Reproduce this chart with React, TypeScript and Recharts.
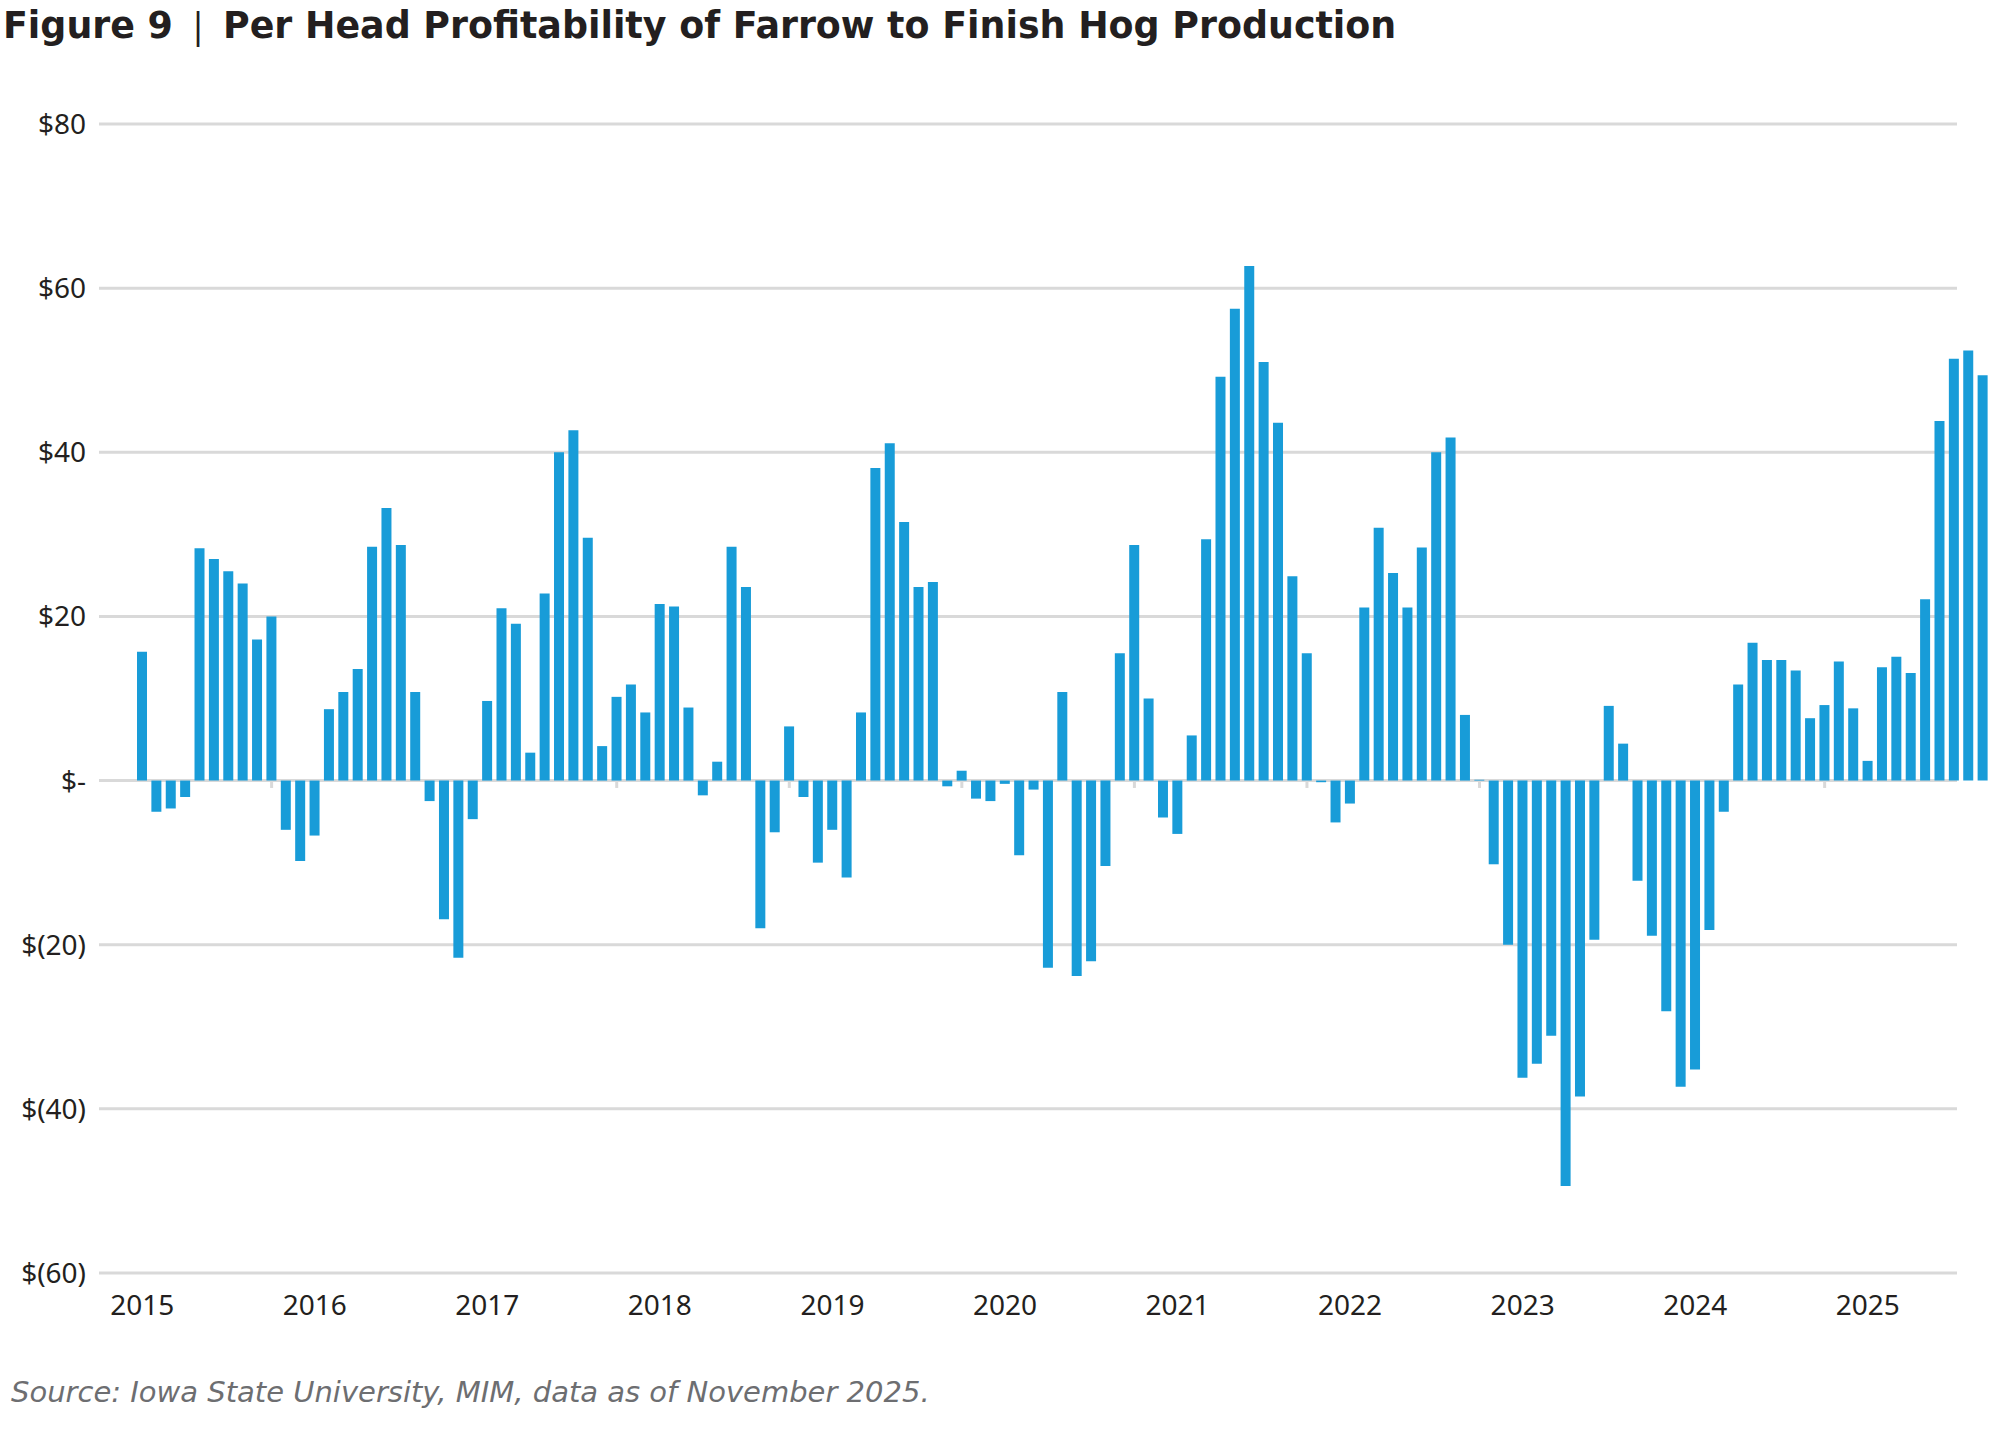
import { Bar, BarChart, CartesianGrid, ReferenceLine, XAxis, YAxis } from "recharts";

const years = [2015, 2016, 2017, 2018, 2019, 2020, 2021, 2022, 2023, 2024, 2025];
const months = ["01", "02", "03", "04", "05", "06", "07", "08", "09", "10", "11", "12"];

// per head profit, $ per month
const profit2015 = [15.7, -3.8, -3.4, -2.0, 28.3, 27.0, 25.5, 24.0, 17.2, 20.0, -6.0, -9.8];
const profit2016 = [-6.7, 8.7, 10.8, 13.6, 28.5, 33.2, 28.7, 10.8, -2.5, -16.9, -21.6, -4.7];
const profit2017 = [9.7, 21.0, 19.1, 3.4, 22.8, 40.0, 42.7, 29.6, 4.2, 10.2, 11.7, 8.3];
const profit2018 = [21.5, 21.2, 8.9, -1.8, 2.3, 28.5, 23.6, -18.0, -6.3, 6.6, -2.0, -10.0];
const profit2019 = [-6.0, -11.8, 8.3, 38.1, 41.1, 31.5, 23.6, 24.2, -0.7, 1.2, -2.2, -2.5];
const profit2020 = [-0.4, -9.1, -1.1, -22.8, 10.8, -23.8, -22.0, -10.4, 15.5, 28.7, 10.0, -4.5];
const profit2021 = [-6.5, 5.5, 29.4, 49.2, 57.5, 62.7, 51.0, 43.6, 24.9, 15.5, -0.2, -5.1];
const profit2022 = [-2.8, 21.1, 30.8, 25.3, 21.1, 28.4, 40.0, 41.8, 8.0, 0.1, -10.2, -20.0];
const profit2023 = [-36.2, -34.5, -31.1, -49.4, -38.5, -19.4, 9.1, 4.5, -12.2, -18.9, -28.1, -37.3];
const profit2024 = [-35.2, -18.2, -3.8, 11.7, 16.8, 14.7, 14.7, 13.4, 7.6, 9.2, 14.5, 8.8];
const profit2025 = [2.4, 13.8, 15.1, 13.1, 22.1, 43.8, 51.4, 52.4, 49.4];

const profitByYear = [
  profit2015, profit2016, profit2017, profit2018, profit2019, profit2020,
  profit2021, profit2022, profit2023, profit2024, profit2025,
];

const yTicks = [-60, -40, -20, 0, 20, 40, 60, 80];

const data = years.flatMap((year, i) =>
  profitByYear[i].map((profit, m) => ({ month: `${year}-${months[m]}`, profit }))
);

const yearTicks = years.map((y) => `${y}-01`);
const octoberTicks = years
  .map((y) => `${y}-10`)
  .filter((k) => data.some((d) => d.month === k));

function formatDollar(v: number) {
  if (v === 0) return "$-";
  return v < 0 ? `$(${-v})` : `$${v}`;
}

const font = "'Noto Sans', sans-serif";

export default function App() {
  return (
    <div
      style={{
        position: "absolute",
        left: 0,
        top: 0,
        width: 1992,
        height: 1440,
        overflow: "hidden",
        background: "#fff",
        fontFamily: font,
      }}
    >
      <div
        style={{
          position: "absolute",
          left: 3,
          top: 6,
          fontFamily: "'DejaVu Sans', sans-serif",
          fontSize: 36.4,
          lineHeight: "37px",
          fontWeight: 700,
          color: "#231f20",
          whiteSpace: "nowrap",
        }}
      >
        Figure 9
        <span style={{ fontWeight: 400, fontFamily: font, margin: "0 15px" }}>|</span>
        Per Head Profitability of Farrow to Finish Hog Production
      </div>

      <BarChart
        width={1992}
        height={1340}
        data={data}
        margin={{ top: 124, right: 35, left: 0, bottom: 0 }}
      >
        <CartesianGrid vertical={false} stroke="#d9d9d9" strokeWidth={3} />
        <XAxis
          dataKey="month"
          ticks={yearTicks}
          interval={0}
          tickFormatter={(k: string) => k.slice(0, 4)}
          axisLine={false}
          tickLine={false}
          tickSize={0}
          tickMargin={22}
          height={67}
          padding={{ left: 36, right: -33 }}
          tick={{ fontSize: 28, fill: "#231f20", fontFamily: font }}
        />
        <YAxis
          domain={[-60, 80]}
          ticks={yTicks}
          tickFormatter={formatDollar}
          axisLine={false}
          tickLine={false}
          tickSize={0}
          tickMargin={13}
          width={99}
          tick={{ fontSize: 28, fill: "#231f20", fontFamily: font }}
        />
        {octoberTicks.map((k) => (
          <ReferenceLine
            key={k}
            segment={[
              { x: k, y: 0 },
              { x: k, y: -0.9 },
            ]}
            stroke="#d9d9d9"
            strokeWidth={3}
            zIndex={-50}
          />
        ))}
        <Bar dataKey="profit" fill="#189cd8" barSize={10} isAnimationActive={false} />
      </BarChart>

      <div
        style={{
          position: "absolute",
          left: 11,
          top: 1378,
          fontFamily: "'DejaVu Sans', sans-serif",
          fontSize: 29,
          lineHeight: "29px",
          fontStyle: "italic",
          color: "#6d6e71",
          whiteSpace: "nowrap",
        }}
      >
        Source: Iowa State University, MIM, data as of November 2025.
      </div>
    </div>
  );
}
